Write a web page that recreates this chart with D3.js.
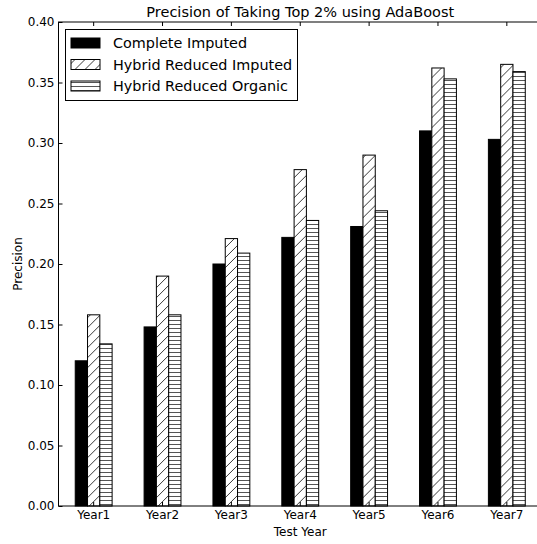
<!DOCTYPE html>
<html>
<head>
<meta charset="utf-8">
<script src="https://cdn.jsdelivr.net/npm/d3@7"></script>
<style>
  html, body { margin: 0; padding: 0; background: #fff; overflow: hidden; }
  svg { display: block; font-family: "DejaVu Sans", sans-serif; }
</style>
</head>
<body>
<svg id="chart" width="537" height="544"></svg>
<script>
// Precision per test year for each feature set
const years = ["Year1", "Year2", "Year3", "Year4", "Year5", "Year6", "Year7"];
const seriesNames = ["Complete Imputed", "Hybrid Reduced Imputed", "Hybrid Reduced Organic"];
const completeImputed      = [0.120, 0.148, 0.200, 0.222, 0.231, 0.310, 0.303];
const hybridReducedImputed = [0.158, 0.190, 0.221, 0.278, 0.290, 0.362, 0.365];
const hybridReducedOrganic = [0.134, 0.158, 0.209, 0.236, 0.244, 0.353, 0.359];
const yTicks = [0, 0.05, 0.10, 0.15, 0.20, 0.25, 0.30, 0.35, 0.40];

const seriesValues = [completeImputed, hybridReducedImputed, hybridReducedOrganic];
const rows = years.map((yr, i) => ({
  year: yr,
  values: seriesNames.map((s, k) => ({ series: s, value: seriesValues[k][i] }))
}));

const svg = d3.select("#chart");
const plotLeft = 58.5, plotRight = 542, plotTop = 22, plotBottom = 506;

// Fill patterns: solid, forward-diagonal hatch, horizontal hatch
const defs = svg.append("defs");
const diag = defs.append("pattern")
  .attr("id", "hatch-diag").attr("patternUnits", "userSpaceOnUse")
  .attr("width", 10).attr("height", 10);
diag.append("rect").attr("width", 10).attr("height", 10).attr("fill", "#fff");
diag.append("path")
  .attr("d", "M-2,12 L12,-2 M-7,7 L7,-7 M3,17 L17,3")
  .attr("stroke", "#222").attr("stroke-width", 0.9).attr("fill", "none");

const horiz = defs.append("pattern")
  .attr("id", "hatch-horiz").attr("patternUnits", "userSpaceOnUse")
  .attr("width", 8).attr("height", 4);
horiz.append("rect").attr("width", 8).attr("height", 4).attr("fill", "#fff");
horiz.append("line")
  .attr("x1", 0).attr("x2", 8).attr("y1", 0.5).attr("y2", 0.5)
  .attr("stroke", "#555").attr("stroke-width", 1)
  .attr("shape-rendering", "crispEdges");

const fills = {
  "Complete Imputed": "#000",
  "Hybrid Reduced Imputed": "url(#hatch-diag)",
  "Hybrid Reduced Organic": "url(#hatch-horiz)"
};

const x0 = d3.scaleBand().domain(years).range([plotLeft, plotRight])
  .paddingInner(0.4645).paddingOuter(0.243);
const x1 = d3.scaleBand().domain(seriesNames).range([0, x0.bandwidth()]);
const y = d3.scaleLinear().domain([0, 0.4]).range([plotBottom, plotTop]);

// Bars
const groups = svg.append("g").selectAll("g").data(rows).join("g")
  .attr("transform", d => `translate(${x0(d.year)},0)`);
groups.selectAll("rect").data(d => d.values).join("rect")
  .attr("x", d => x1(d.series))
  .attr("y", d => y(d.value))
  .attr("width", x1.bandwidth())
  .attr("height", d => y(0) - y(d.value))
  .attr("fill", d => fills[d.series])
  .attr("stroke", "#000")
  .attr("stroke-width", 1);

// Axes with inward ticks
const tickFont = g => g.selectAll("text")
  .attr("font-size", 12).attr("fill", "#000")
  .attr("font-family", "DejaVu Sans, sans-serif");

svg.append("g").attr("transform", `translate(${plotLeft},0)`)
  .call(d3.axisLeft(y).tickValues(yTicks).tickFormat(d3.format(".2f"))
    .tickSizeInner(-4).tickSizeOuter(0).tickPadding(4))
  .call(g => g.select(".domain").remove())
  .call(tickFont);

svg.append("g").attr("transform", `translate(0,${plotBottom})`)
  .call(d3.axisBottom(x0).tickSizeInner(-4).tickSizeOuter(0).tickPadding(4))
  .call(g => g.select(".domain").remove())
  .call(tickFont);

svg.append("g").attr("transform", `translate(0,${plotTop})`)
  .call(d3.axisTop(x0).tickSizeInner(-4).tickSizeOuter(0).tickFormat(""))
  .call(g => g.select(".domain").remove());

svg.append("g").attr("transform", `translate(${plotRight},0)`)
  .call(d3.axisRight(y).tickValues(yTicks).tickSizeInner(-4).tickSizeOuter(0).tickFormat(""))
  .call(g => g.select(".domain").remove());

// Plot frame
svg.append("rect")
  .attr("x", plotLeft).attr("y", plotTop)
  .attr("width", plotRight - plotLeft).attr("height", plotBottom - plotTop)
  .attr("fill", "none").attr("stroke", "#000").attr("stroke-width", 1);

// Title and axis labels
svg.append("text")
  .attr("x", (plotLeft + plotRight) / 2).attr("y", 17)
  .attr("text-anchor", "middle").attr("font-size", 14.5)
  .text("Precision of Taking Top 2% using AdaBoost");

svg.append("text")
  .attr("x", (plotLeft + plotRight) / 2).attr("y", 536)
  .attr("text-anchor", "middle").attr("font-size", 12)
  .text("Test Year");

svg.append("text")
  .attr("transform", `translate(22,${(plotTop + plotBottom) / 2}) rotate(-90)`)
  .attr("text-anchor", "middle").attr("font-size", 12)
  .text("Precision");

// Legend
const legend = svg.append("g");
legend.append("rect")
  .attr("x", 65.5).attr("y", 29.5).attr("width", 232).attr("height", 71)
  .attr("fill", "#fff").attr("stroke", "#000").attr("stroke-width", 1);
const items = legend.selectAll("g.item").data(seriesNames).join("g")
  .attr("class", "item")
  .attr("transform", (d, i) => `translate(0,${43 + i * 21.5})`);
items.append("rect")
  .attr("x", 71).attr("y", -5).attr("width", 29).attr("height", 10)
  .attr("fill", d => fills[d]).attr("stroke", "#000").attr("stroke-width", 1);
items.append("text")
  .attr("x", 113).attr("y", 5).attr("font-size", 14.4)
  .text(d => d);
</script>
</body>
</html>
